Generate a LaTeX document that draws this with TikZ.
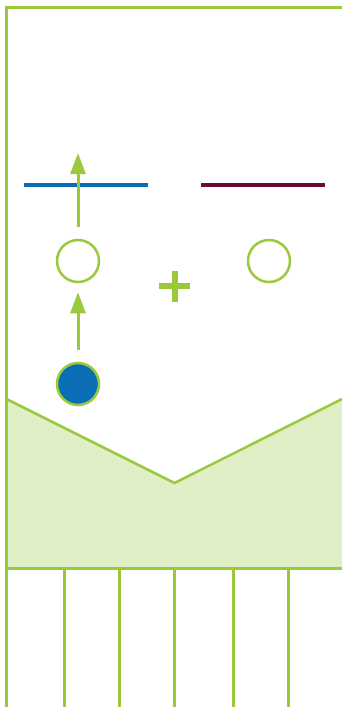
\documentclass[tikz,border=0pt]{standalone}
\usepackage{xcolor}
\definecolor{leafGreen}{HTML}{9ACA3C}
\definecolor{paleGreen}{HTML}{E0EFC6}
\definecolor{bandBlue}{HTML}{0A6EB4}
\definecolor{bandWine}{HTML}{6A0D36}
\usetikzlibrary{arrows.meta,calc}

\begin{document}
\begin{tikzpicture}[x=1pt,y=-1pt,line join=miter,
    hole/.style={circle,draw=leafGreen,line width=2.5pt,minimum size=42pt,inner sep=0pt},
    up/.style={-{Triangle[length=21pt,width=15pt]},draw=leafGreen,line width=3pt}]
  \useasboundingbox (0,0) rectangle (342,707);
  % lower band
  \fill[paleGreen] (6.5,399) -- (174.5,483) -- (342,399) -- (342,568) -- (6.5,568) -- cycle;
  \draw[leafGreen,line width=2.5pt] (6.5,399) -- (174.5,483) -- (342,399);
  \draw[leafGreen,line width=3pt] (6.5,568) -- (342,568);
  \foreach \x in {64,119,174.5,233,288}
    \draw[leafGreen,line width=3pt] (\x,568) -- (\x,707);
  % frame
  \draw[leafGreen,line width=3pt] (342,7.5) -- (6.5,7.5) -- (6.5,707);
  % bands
  \draw[bandBlue,line width=4.5pt] (24,185) -- (148,185);
  \draw[bandWine,line width=4.5pt] (201,185) -- (325,185);
  \node[hole] (h1) at (78,261) {};
  \node[hole] (h2) at (269,261) {};
  \node[hole,fill=bandBlue] (dot) at (78,384) {};
  \coordinate (tip) at (78,153);
  \coordinate (plus) at (174.5,286);
  \draw[leafGreen,line width=6pt] (plus) ++(-15.5,0) -- ++(31,0);
  \draw[leafGreen,line width=6pt] (plus) ++(0,-15.5) -- ++(0,31);
  \draw[up,shorten <=12pt] (h1) -- (tip);
  \draw[up,shorten <=12pt,shorten >=9pt] (dot) -- (h1);
\end{tikzpicture}
\end{document}
